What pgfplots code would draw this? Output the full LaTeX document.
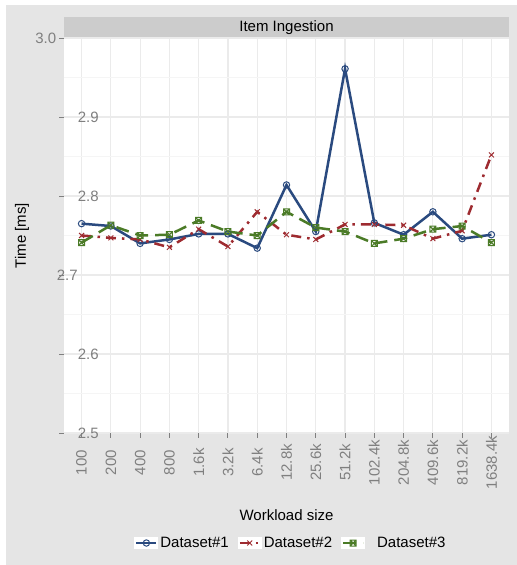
\documentclass[border=0pt]{standalone}
\usepackage{pgfplots}
\pgfplotsset{compat=1.18}
\usepackage{fontspec}
\setmainfont{Liberation Sans}

\definecolor{bgray}{HTML}{E5E5E5}
\definecolor{stripgray}{HTML}{CCCCCC}
\definecolor{gridmaj}{HTML}{EBEBEB}
\definecolor{gridmin}{HTML}{F5F5F5}
\definecolor{ticktxt}{HTML}{7F7F7F}
\definecolor{dsblue}{HTML}{2A4A7F}
\definecolor{dsred}{HTML}{9E2B30}
\definecolor{dsgreen}{HTML}{4B7B27}

% square with a cross inside
\pgfdeclareplotmark{crossedbox}{%
  \pgfpathrectangle{\pgfqpoint{-\pgfplotmarksize}{-\pgfplotmarksize}}{\pgfqpoint{2\pgfplotmarksize}{2\pgfplotmarksize}}%
  \pgfpathmoveto{\pgfqpoint{-\pgfplotmarksize}{-\pgfplotmarksize}}%
  \pgfpathlineto{\pgfqpoint{\pgfplotmarksize}{\pgfplotmarksize}}%
  \pgfpathmoveto{\pgfqpoint{-\pgfplotmarksize}{\pgfplotmarksize}}%
  \pgfpathlineto{\pgfqpoint{\pgfplotmarksize}{-\pgfplotmarksize}}%
  \pgfusepathqstroke}

\newcommand{\fs}{\fontsize{15bp}{18bp}\selectfont}

\pgfplotsset{keyboxed/.style={legend image code/.code={%
  \fill[white,draw=none] (-2bp,-6bp) rectangle (22bp,6bp);
  \draw[mark repeat=2,mark phase=2] plot coordinates {(0bp,0bp) (10bp,0bp) (20bp,0bp)};}}}

\begin{document}
\begin{tikzpicture}
\useasboundingbox (-64bp,-132bp) rectangle (453bp,433bp);
\fill[white] (-64bp,-132bp) rectangle (453bp,433bp);
\fill[bgray] (-58bp,-132bp) rectangle (453bp,428bp);
% facet strip
\fill[stripgray] (0bp,395bp) rectangle (445bp,416bp);
\node[font=\fs, text=black] at (222.5bp,405.5bp) {Item Ingestion};

\begin{axis}[
  scale only axis, width=445bp, height=395bp,
  anchor=south west, at={(0bp,0bp)},
  xmin=-0.6, xmax=14.6, ymin=2.5, ymax=3.0,
  axis background/.style={fill=white},
  axis line style={draw=none},
  xtick={0,...,14},
  xticklabels={100,200,400,800,1.6k,3.2k,6.4k,12.8k,25.6k,51.2k,102.4k,204.8k,409.6k,819.2k,1638.4k},
  ytick={2.5,2.6,2.7,2.8,2.9,3.0},
  yticklabels={2.5,2.6,\kern-22bp 2.7,2.8,2.9,\llap{3.0\kern22bp}},
  minor y tick num=1,
  minor tick length=0pt,
  xtick pos=bottom, ytick pos=left,
  tick align=outside,
  major tick length=4.5bp,
  major tick style={ticktxt, line width=1bp},
  grid=both,
  major grid style={gridmaj, line width=1.2bp},
  minor grid style={gridmin, line width=1bp},
  ticklabel style={font=\fs, text=ticktxt},
  xticklabel style={rotate=90, anchor=center},
  xticklabel shift=25bp,
  yticklabel style={anchor=west, inner sep=0pt, xshift=17bp},
  xlabel={Workload size},
  ylabel={Time [ms]},
  label style={font=\fs, text=black},
  xlabel style={at={(axis description cs:0.5,-0.2076)}, anchor=center},
  ylabel style={at={(axis description cs:-0.0944,0.5)}, anchor=center},
  legend columns=3,
  legend style={at={(axis description cs:0.51,-0.2785)}, anchor=center,
    draw=none, fill=none, font=\fs,
    /tikz/every even column/.append style={column sep=7bp}},
  line width=2.5bp,
]
\addplot[dsblue, solid, mark=o, mark size=3.2bp, mark options={solid, fill=white, line width=1bp}, keyboxed]
  coordinates {(0,2.765)(1,2.762)(2,2.740)(3,2.745)(4,2.752)(5,2.752)(6,2.734)(7,2.814)(8,2.755)(9,2.961)(10,2.766)(11,2.751)(12,2.780)(13,2.746)(14,2.751)};
\addlegendentry{Dataset\#1}
\addplot[dsred, dash pattern=on 10bp off 6bp on 2.5bp off 6bp, mark=x, mark size=3.5bp, mark options={solid, line width=1bp}, keyboxed]
  coordinates {(0,2.750)(1,2.747)(2,2.745)(3,2.735)(4,2.758)(5,2.736)(6,2.780)(7,2.751)(8,2.745)(9,2.764)(10,2.764)(11,2.763)(12,2.746)(13,2.756)(14,2.852)};
\addlegendentry{Dataset\#2}
\addplot[dsgreen, dash pattern=on 13bp off 7bp, mark=crossedbox, mark size=3bp, mark options={solid, line width=1bp}, keyboxed]
  coordinates {(0,2.741)(1,2.763)(2,2.750)(3,2.751)(4,2.769)(5,2.755)(6,2.750)(7,2.780)(8,2.760)(9,2.755)(10,2.740)(11,2.746)(12,2.758)(13,2.762)(14,2.741)};
\addlegendentry{\hspace{10bp}Dataset\#3}
\end{axis}
\end{tikzpicture}
\end{document}
